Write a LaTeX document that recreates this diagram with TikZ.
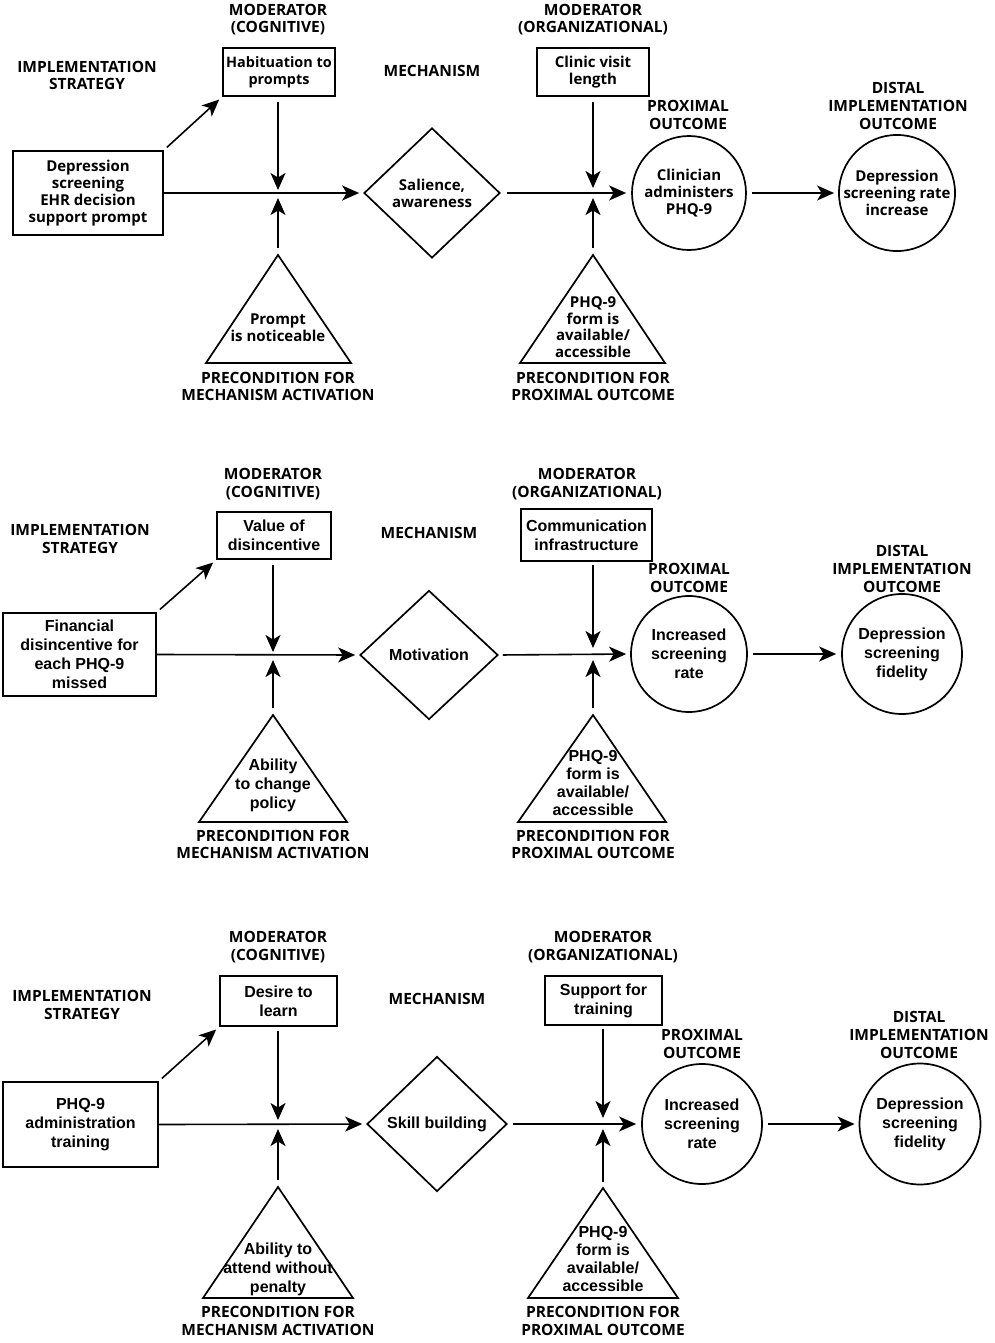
\documentclass[tikz,border=0pt]{standalone}
\usepackage{fontspec}
\newfontfamily\osans{Open Sans}
\newfontfamily\arialf{Liberation Sans}
\usetikzlibrary{shapes.geometric,arrows.meta}
\tikzset{
 hd/.style={font=\osans\bfseries\fontsize{15.5}{17.6}\selectfont, align=center, inner sep=0pt},
 ta/.style={font=\osans\bfseries\fontsize{15}{17}\selectfont, align=center, inner sep=0pt},
 tb/.style={font=\arialf\bfseries\fontsize{16}{19}\selectfont, align=center, inner sep=0pt},
 bx/.style={draw, line width=1.7pt, inner sep=0pt},
 dia/.style={draw, diamond, line width=1.7pt, inner sep=0pt},
 circ/.style={draw, circle, line width=1.7pt, inner sep=0pt},
 tri/.style={line width=1.7pt, line join=miter},
 arr/.style={line width=1.6pt, -{Stealth[length=17pt,width=15pt,inset=4.5pt]}},
}
\begin{document}
\begin{tikzpicture}[x=1pt,y=-1pt]
\fill[white] (0,0) rectangle (995,1343);
\useasboundingbox (0,0) rectangle (995,1343);

% ================= Panel 1 =================
\node[hd] (p1lm1) at (278,19.5) {MODERATOR\\(COGNITIVE)};
\node[hd] (p1ls) at (87,75.5) {IMPLEMENTATION\\STRATEGY};
\node[hd] (p1lme) at (432,71) {MECHANISM};
\node[hd] (p1lm2) at (593,19.5) {MODERATOR\\(ORGANIZATIONAL)};
\node[hd] (p1lp) at (688,115) {PROXIMAL\\OUTCOME};
\node[hd] (p1ld) at (898,106) {DISTAL\\IMPLEMENTATION\\OUTCOME};
\node[hd] (p1lc1) at (278,386.5) {PRECONDITION FOR\\MECHANISM ACTIVATION};
\node[hd] (p1lc2) at (593,386.5) {PRECONDITION FOR\\PROXIMAL OUTCOME};

\node[bx,ta,minimum width=150pt,minimum height=84pt] (p1s) at (88,193) {Depression\\screening\\EHR decision\\support prompt};
\node[bx,ta,font=\osans\bfseries\fontsize{14.4}{17}\selectfont,minimum width=112pt,minimum height=48pt] (p1m1) at (279,72) {Habituation to\\prompts};
\node[bx,ta,minimum width=112pt,minimum height=48pt] (p1m2) at (593,72) {Clinic visit\\length};
\node[dia,ta,minimum width=136pt,minimum height=130pt] (p1d) at (432,193) {Salience,\\awareness};
\node[circ,ta,minimum size=114pt] (p1c1) at (689,193) {Clinician\\administers\\PHQ-9};
\node[circ,ta,minimum size=114pt] (p1c2) at (897,193) {Depression\\screening rate\\increase};

\coordinate (p1t1a) at (278,255); \coordinate (p1t1l) at (206,363); \coordinate (p1t1r) at (351,363);
\draw[tri] (p1t1a) -- (p1t1l) -- (p1t1r) -- cycle;
\node[ta] (p1t1) at (278,328) {Prompt\\is noticeable};
\coordinate (p1t2a) at (593,255); \coordinate (p1t2l) at (520,363); \coordinate (p1t2r) at (665,363);
\draw[tri] (p1t2a) -- (p1t2l) -- (p1t2r) -- cycle;
\node[ta,font=\osans\bfseries\fontsize{15}{16.5}\selectfont] (p1t2) at (593,327) {PHQ-9\\form is\\available/\\accessible};

\coordinate (p1j1d) at (278,190); \coordinate (p1j1u) at (278,198);
\coordinate (p1j2d) at (593,188); \coordinate (p1j2u) at (593,198);
\draw[arr, shorten <=4pt, shorten >=4pt] (p1s.north east) -- (p1m1.south west);
\draw[arr, shorten <=5pt] (p1m1.south -| p1j1d) -- (p1j1d);
\draw[arr, shorten <=7pt] (p1t1a) -- (p1j1u);
\draw[arr, shorten <=5pt] (p1m2.south -| p1j2d) -- (p1j2d);
\draw[arr, shorten <=7pt] (p1t2a) -- (p1j2u);
\draw[arr, shorten >=4pt] (p1s.east) -- (p1d.west);
\draw[arr, shorten <=6pt, shorten >=5pt] (p1d.east) -- (p1c1.west);
\draw[arr, shorten <=5pt, shorten >=4pt] (p1c1.east) -- (p1c2.west);

% ================= Panel 2 =================
\node[hd] (p2lm1) at (273,484) {MODERATOR\\(COGNITIVE)};
\node[hd] (p2ls) at (80,539) {IMPLEMENTATION\\STRATEGY};
\node[hd] (p2lme) at (429,533) {MECHANISM};
\node[hd] (p2lm2) at (587,484) {MODERATOR\\(ORGANIZATIONAL)};
\node[hd] (p2lp) at (689,578) {PROXIMAL\\OUTCOME};
\node[hd] (p2ld) at (902,569) {DISTAL\\IMPLEMENTATION\\OUTCOME};
\node[hd] (p2lc1) at (273,844.5) {PRECONDITION FOR\\MECHANISM ACTIVATION};
\node[hd] (p2lc2) at (593,844.5) {PRECONDITION FOR\\PROXIMAL OUTCOME};

\node[bx,tb,minimum width=153pt,minimum height=83pt] (p2s) at (79.5,654.5) {Financial\\disincentive for\\each PHQ-9\\missed};
\node[bx,tb,minimum width=114pt,minimum height=47pt] (p2m1) at (274,535.5) {Value of\\disincentive};
\node[bx,tb,line width=2.5pt,minimum width=131pt,minimum height=52pt] (p2m2) at (586.5,535) {Communication\\infrastructure};
\node[dia,tb,minimum width=138pt,minimum height=129pt] (p2d) at (429,655) {Motivation};
\node[circ,tb,minimum size=116pt] (p2c1) at (689,654) {Increased\\screening\\rate};
\node[circ,tb,minimum size=120pt] (p2c2) at (902,654) {Depression\\screening\\fidelity};

\coordinate (p2t1a) at (273,715); \coordinate (p2t1l) at (199,822); \coordinate (p2t1r) at (347,822);
\draw[tri] (p2t1a) -- (p2t1l) -- (p2t1r) -- cycle;
\node[tb] (p2t1) at (273,785.5) {Ability\\to change\\policy};
\coordinate (p2t2a) at (593,715); \coordinate (p2t2l) at (518,822); \coordinate (p2t2r) at (666,822);
\draw[tri] (p2t2a) -- (p2t2l) -- (p2t2r) -- cycle;
\node[tb,font=\arialf\bfseries\fontsize{16}{18}\selectfont] (p2t2) at (593,783) {PHQ-9\\form is\\available/\\accessible};

\coordinate (p2j1d) at (273,652); \coordinate (p2j1u) at (273,660);
\coordinate (p2j2d) at (593,648); \coordinate (p2j2u) at (593,660);
\draw[arr, shorten <=4pt, shorten >=4pt] (p2s.north east) -- (p2m1.south west);
\draw[arr, shorten <=5pt] (p2m1.south -| p2j1d) -- (p2j1d);
\draw[arr, shorten <=7pt] (p2t1a) -- (p2j1u);
\draw[arr, shorten <=3pt] (p2m2.south -| p2j2d) -- (p2j2d);
\draw[arr, shorten <=7pt] (p2t2a) -- (p2j2u);
\draw[arr, shorten >=4pt] (p2s.east) -- (p2d.west);
\draw[arr, shorten <=4pt, shorten >=4pt] (p2d.east) -- (p2c1.west);
\draw[arr, shorten <=5pt, shorten >=5pt] (p2c1.east) -- (p2c2.west);

% ================= Panel 3 =================
\node[hd] (p3lm1) at (278,947) {MODERATOR\\(COGNITIVE)};
\node[hd] (p3ls) at (82,1005) {IMPLEMENTATION\\STRATEGY};
\node[hd] (p3lme) at (437,999) {MECHANISM};
\node[hd] (p3lm2) at (603,947) {MODERATOR\\(ORGANIZATIONAL)};
\node[hd] (p3lp) at (702,1044) {PROXIMAL\\OUTCOME};
\node[hd] (p3ld) at (919,1035) {DISTAL\\IMPLEMENTATION\\OUTCOME};
\node[hd] (p3lc1) at (278,1321) {PRECONDITION FOR\\MECHANISM ACTIVATION};
\node[hd] (p3lc2) at (603,1321) {PRECONDITION FOR\\PROXIMAL OUTCOME};

\node[bx,tb,minimum width=155pt,minimum height=85pt] (p3s) at (80.5,1124.5) {PHQ-9\\administration\\training};
\node[bx,tb,minimum width=117pt,minimum height=50pt] (p3m1) at (278.5,1001) {Desire to\\learn};
\node[bx,tb,minimum width=117pt,minimum height=49pt] (p3m2) at (603.5,1000.5) {Support for\\training};
\node[dia,tb,minimum width=140pt,minimum height=135pt] (p3d) at (437,1124) {Skill building};
\node[circ,tb,minimum size=120pt] (p3c1) at (702,1124) {Increased\\screening\\rate};
\node[circ,tb,minimum size=121pt] (p3c2) at (920,1124) {Depression\\screening\\fidelity};

\coordinate (p3t1a) at (278,1187); \coordinate (p3t1l) at (203,1298); \coordinate (p3t1r) at (353,1298);
\draw[tri] (p3t1a) -- (p3t1l) -- (p3t1r) -- cycle;
\node[tb] (p3t1) at (278,1269.5) {Ability to\\attend without\\penalty};
\coordinate (p3t2a) at (603,1188); \coordinate (p3t2l) at (528,1298); \coordinate (p3t2r) at (678,1298);
\draw[tri] (p3t2a) -- (p3t2l) -- (p3t2r) -- cycle;
\node[tb,font=\arialf\bfseries\fontsize{16}{18.3}\selectfont] (p3t2) at (603,1259) {PHQ-9\\form is\\available/\\accessible};

\coordinate (p3j1d) at (278,1120); \coordinate (p3j1u) at (278,1129);
\coordinate (p3j2d) at (603,1118); \coordinate (p3j2u) at (603,1129);
\draw[arr, shorten <=4pt, shorten >=4pt] (p3s.north east) -- (p3m1.south west);
\draw[arr, shorten <=4pt] (p3m1.south -| p3j1d) -- (p3j1d);
\draw[arr, shorten <=7pt] (p3t1a) -- (p3j1u);
\draw[arr, shorten <=3pt] (p3m2.south -| p3j2d) -- (p3j2d);
\draw[arr, shorten <=6pt] (p3t2a) -- (p3j2u);
\draw[arr, shorten >=4pt] (p3s.east) -- (p3d.west);
\draw[arr, shorten <=5pt, shorten >=5pt] (p3d.east) -- (p3c1.west);
\draw[arr, shorten <=5pt, shorten >=4pt] (p3c1.east) -- (p3c2.west);
\end{tikzpicture}
\end{document}
